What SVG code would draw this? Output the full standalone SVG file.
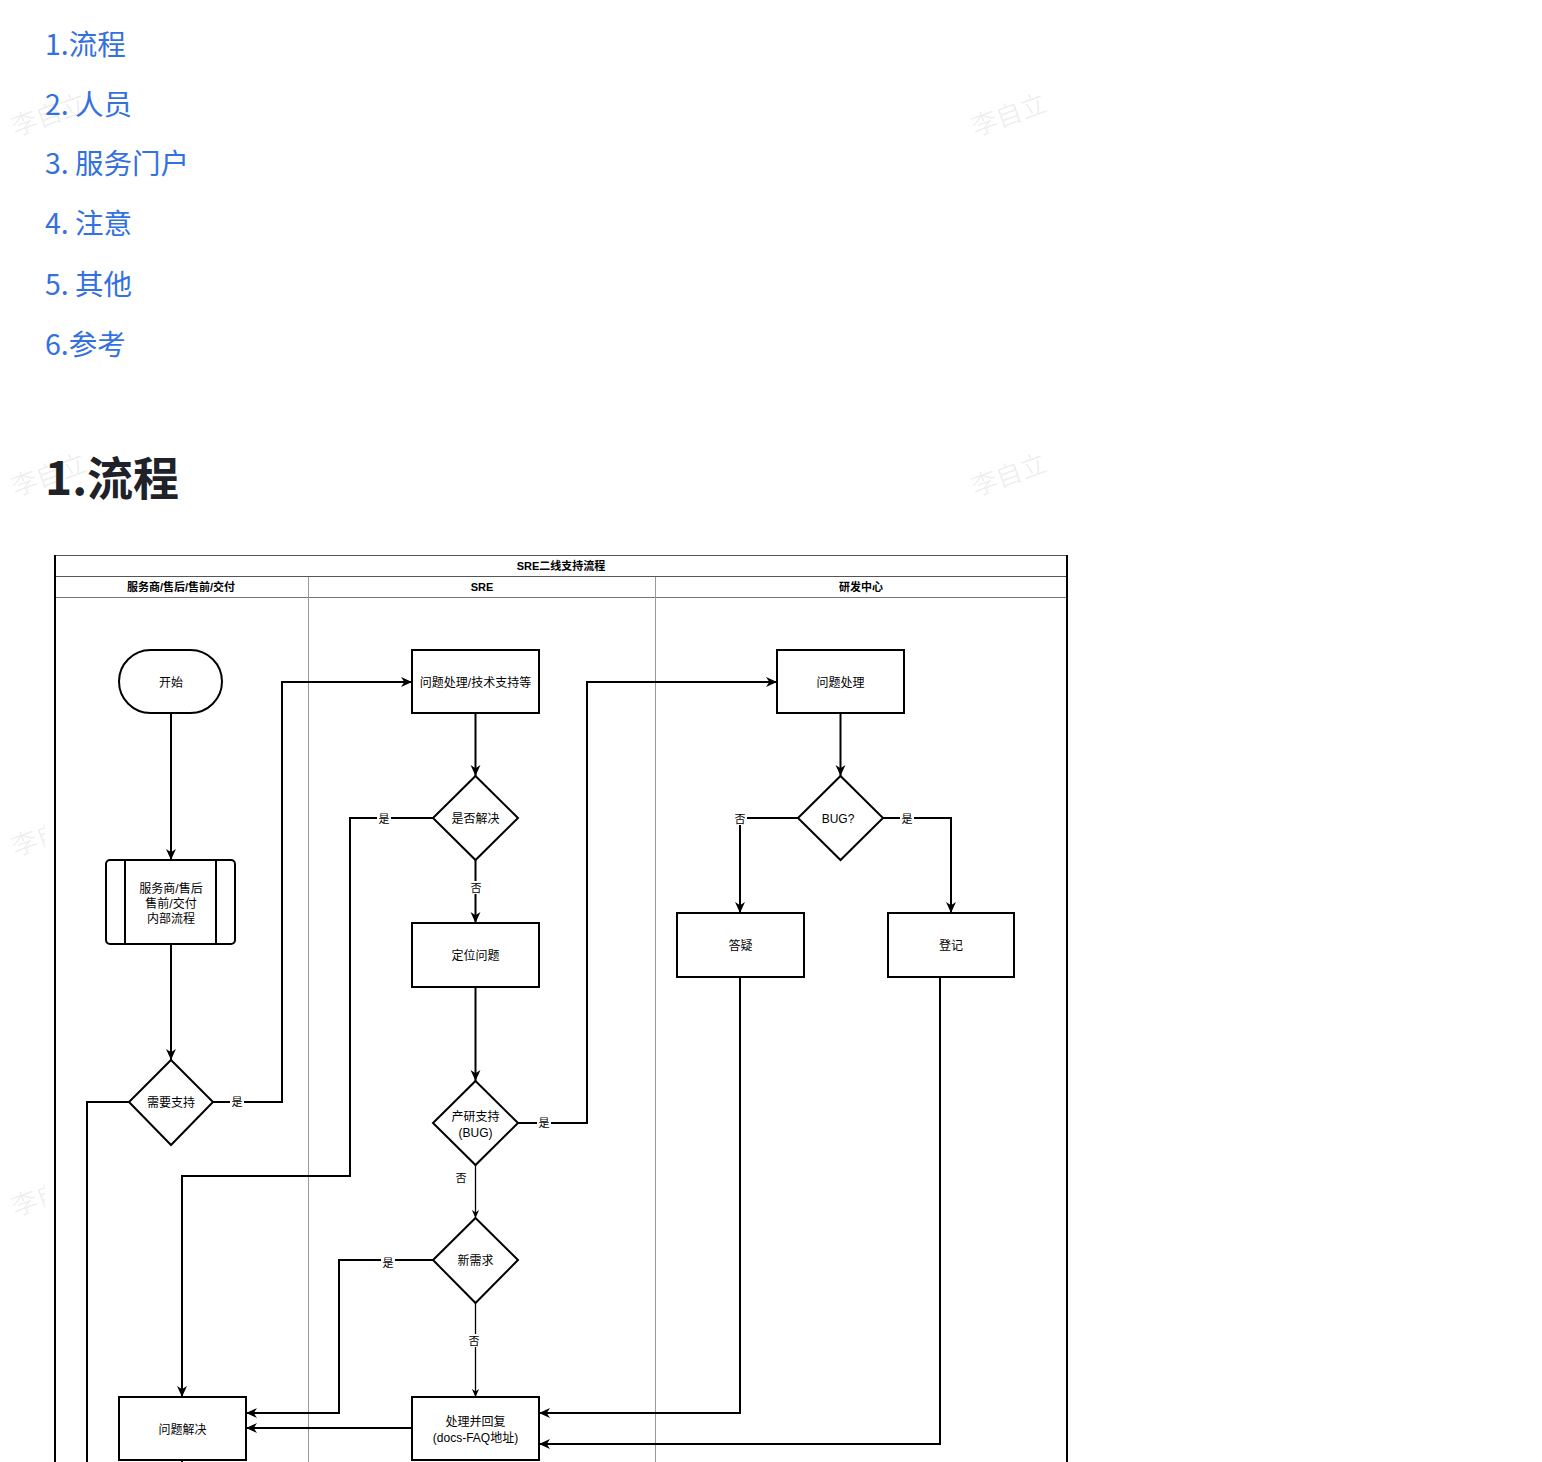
<svg xmlns="http://www.w3.org/2000/svg" width="1542" height="1462" viewBox="0 0 1542 1462">
<style>
.toc{font-family:"Noto Sans CJK SC","Liberation Sans",sans-serif;font-size:28.5px;fill:#3370e0}
.h1{font-family:"Noto Sans CJK SC","Liberation Sans",sans-serif;font-size:46px;font-weight:bold;fill:#1f2329}
.wm{font-family:"Noto Sans CJK SC",sans-serif;font-size:26px;fill:#000;fill-opacity:0.07}
.t{font-family:"Liberation Sans","Noto Sans CJK SC",sans-serif;font-size:12px;fill:#000;text-anchor:middle;dominant-baseline:central}
.hd{font-family:"Liberation Sans","Noto Sans CJK SC",sans-serif;font-size:11px;font-weight:bold;fill:#000;text-anchor:middle;dominant-baseline:central}
.lb{font-family:"Liberation Sans","Noto Sans CJK SC",sans-serif;font-size:11px;fill:#000;text-anchor:middle;dominant-baseline:central}
.box{fill:#fff;stroke:#000;stroke-width:2}
.e{fill:none;stroke:#000;stroke-width:2}
.es{fill:none;stroke:#000;stroke-width:1.3}
.lbg{fill:#fff}
</style>
<defs>
<marker id="arr" viewBox="0 0 10 10" refX="10" refY="5" markerWidth="11" markerHeight="11" markerUnits="userSpaceOnUse" orient="auto"><path d="M0,0.5 L10,5 L0,9.5 L3,5 z" fill="#000"/></marker>
<marker id="arrs" viewBox="0 0 10 10" refX="10" refY="5" markerWidth="8" markerHeight="8" markerUnits="userSpaceOnUse" orient="auto"><path d="M0,0.5 L10,5 L0,9.5 L3,5 z" fill="#000"/></marker>
</defs>
<rect width="1542" height="1462" fill="#fff"/>
<g id="watermarks">
<text class="wm" x="49" y="124" text-anchor="middle" transform="rotate(-20 49 115)">李自立</text>
<text class="wm" x="1009" y="124" text-anchor="middle" transform="rotate(-20 1009 115)">李自立</text>
<text class="wm" x="49" y="484" text-anchor="middle" transform="rotate(-20 49 475)">李自立</text>
<text class="wm" x="1009" y="484" text-anchor="middle" transform="rotate(-20 1009 475)">李自立</text>
<text class="wm" x="49" y="844" text-anchor="middle" transform="rotate(-20 49 835)">李自立</text>
<text class="wm" x="49" y="1204" text-anchor="middle" transform="rotate(-20 49 1195)">李自立</text>
</g>
<g id="toc">
<text class="toc" x="45" y="55">1.流程</text>
<text class="toc" x="45" y="115">2. 人员</text>
<text class="toc" x="45" y="174">3. 服务门户</text>
<text class="toc" x="45" y="234">4. 注意</text>
<text class="toc" x="45" y="295">5. 其他</text>
<text class="toc" x="45" y="355">6.参考</text>
</g>
<text class="h1" x="45" y="495">1.流程</text>
<rect x="45" y="545" width="1040" height="917" fill="#fff"/>
<g id="pool">
<line x1="55" y1="555.5" x2="1067" y2="555.5" stroke="#555" stroke-width="1"/>
<line x1="55" y1="576.5" x2="1067" y2="576.5" stroke="#555" stroke-width="1"/>
<line x1="55" y1="597.5" x2="1067" y2="597.5" stroke="#777" stroke-width="1"/>
<line x1="308.5" y1="577" x2="308.5" y2="1462" stroke="#999" stroke-width="1"/>
<line x1="655.5" y1="577" x2="655.5" y2="1462" stroke="#999" stroke-width="1"/>
<line x1="55" y1="555" x2="55" y2="1462" stroke="#000" stroke-width="2"/>
<line x1="1067" y1="555" x2="1067" y2="1462" stroke="#000" stroke-width="2"/>
<text class="hd" x="561" y="566">SRE二线支持流程</text>
<text class="hd" x="181" y="587">服务商/售后/售前/交付</text>
<text class="hd" x="482" y="587">SRE</text>
<text class="hd" x="861" y="587">研发中心</text>
</g>
<g id="connectors">
<path class="e" d="M171,713 V860" marker-end="url(#arr)"/>
<path class="e" d="M171,944 V1060" marker-end="url(#arr)"/>
<path class="e" d="M213,1102 H282 V682 H412" marker-end="url(#arr)"/>
<path class="e" d="M129,1102 H87 V1470"/>
<path class="e" d="M475.5,713 V776" marker-end="url(#arr)"/>
<path class="e" d="M433,818 H350 V1176 H182 V1397" marker-end="url(#arr)"/>
<path class="e" d="M475.5,860 V923" marker-end="url(#arr)"/>
<path class="e" d="M475.5,987 V1081" marker-end="url(#arr)"/>
<path class="e" d="M518,1123 H587 V682 H777" marker-end="url(#arr)"/>
<path class="es" d="M475.5,1165 V1218" marker-end="url(#arrs)"/>
<path class="e" d="M433,1260 H339 V1413 H246" marker-end="url(#arr)"/>
<path class="es" d="M475.5,1303 V1397" marker-end="url(#arrs)"/>
<path class="e" d="M412,1428 H246" marker-end="url(#arr)"/>
<path class="e" d="M840.5,713 V776" marker-end="url(#arr)"/>
<path class="e" d="M798,818 H740 V913" marker-end="url(#arr)"/>
<path class="e" d="M883,818 H951 V913" marker-end="url(#arr)"/>
<path class="e" d="M740,977 V1413 H539" marker-end="url(#arr)"/>
<path class="e" d="M940,977 V1444 H539" marker-end="url(#arr)"/>
<path class="e" d="M182,1460 V1470"/>
<rect class="lbg" x="377" y="812" width="14" height="13"/><text class="lb" x="384" y="818.5">是</text>
<rect class="lbg" x="230" y="1095" width="14" height="13"/><text class="lb" x="237" y="1101.5">是</text>
<rect class="lbg" x="537" y="1116" width="14" height="13"/><text class="lb" x="544" y="1122.5">是</text>
<rect class="lbg" x="381" y="1256" width="14" height="13"/><text class="lb" x="388" y="1262.5">是</text>
<rect class="lbg" x="900" y="812" width="14" height="13"/><text class="lb" x="907" y="818.5">是</text>
<rect class="lbg" x="469" y="881" width="14" height="13"/><text class="lb" x="476" y="887.5">否</text>
<rect class="lbg" x="733" y="812" width="14" height="13"/><text class="lb" x="740" y="818.5">否</text>
<text class="lb" x="461" y="1177.5">否</text>
<rect class="lbg" x="467" y="1334" width="14" height="13"/><text class="lb" x="474" y="1340.5">否</text>
</g>
<g id="n-start"><rect class="box" x="119" y="650" width="103" height="63" rx="31.5"/><text class="t" x="171" y="682.5">开始</text></g>
<g id="n-internal"><rect class="box" x="106" y="860" width="129" height="84" rx="4"/><line x1="125" y1="860" x2="125" y2="944" stroke="#000" stroke-width="2"/><line x1="216" y1="860" x2="216" y2="944" stroke="#000" stroke-width="2"/><text class="t" x="171" y="888.5">服务商/售后</text><text class="t" x="171" y="903.5">售前/交付</text><text class="t" x="171" y="918.5">内部流程</text></g>
<g id="n-need"><path class="box" d="M171,1060 L213,1102 L171,1145 L129,1102 Z"/><text class="t" x="171" y="1102.5">需要支持</text></g>
<g id="n-handle"><rect class="box" x="412" y="650" width="127" height="63"/><text class="t" x="475.5" y="682.5">问题处理/技术支持等</text></g>
<g id="n-resolved"><path class="box" d="M475.5,776 L518,818 L475.5,860 L433,818 Z"/><text class="t" x="475.5" y="818.5">是否解决</text></g>
<g id="n-locate"><rect class="box" x="412" y="923" width="127" height="64"/><text class="t" x="475.5" y="955.5">定位问题</text></g>
<g id="n-rd"><path class="box" d="M475.5,1081 L518,1123 L475.5,1165 L433,1123 Z"/><text class="t" x="475.5" y="1116.5">产研支持</text><text class="t" x="475.5" y="1132.5">(BUG)</text></g>
<g id="n-newreq"><path class="box" d="M475.5,1218 L518,1260 L475.5,1303 L433,1260 Z"/><text class="t" x="475.5" y="1260.5">新需求</text></g>
<g id="n-reply"><rect class="box" x="412" y="1397" width="127" height="63"/><text class="t" x="475.5" y="1421.5">处理并回复</text><text class="t" x="475.5" y="1437.5">(docs-FAQ地址)</text></g>
<g id="n-solved"><rect class="box" x="119" y="1397" width="127" height="63"/><text class="t" x="182.5" y="1429.5">问题解决</text></g>
<g id="n-devhandle"><rect class="box" x="777" y="650" width="127" height="63"/><text class="t" x="840.5" y="682.5">问题处理</text></g>
<g id="n-bug"><path class="box" d="M840.5,776 L883,818 L840.5,860 L798,818 Z"/><text class="t" x="838" y="818.5">BUG?</text></g>
<g id="n-answer"><rect class="box" x="677" y="913" width="127" height="64"/><text class="t" x="740.5" y="945.5">答疑</text></g>
<g id="n-register"><rect class="box" x="888" y="913" width="126" height="64"/><text class="t" x="951" y="945.5">登记</text></g>
</svg>
